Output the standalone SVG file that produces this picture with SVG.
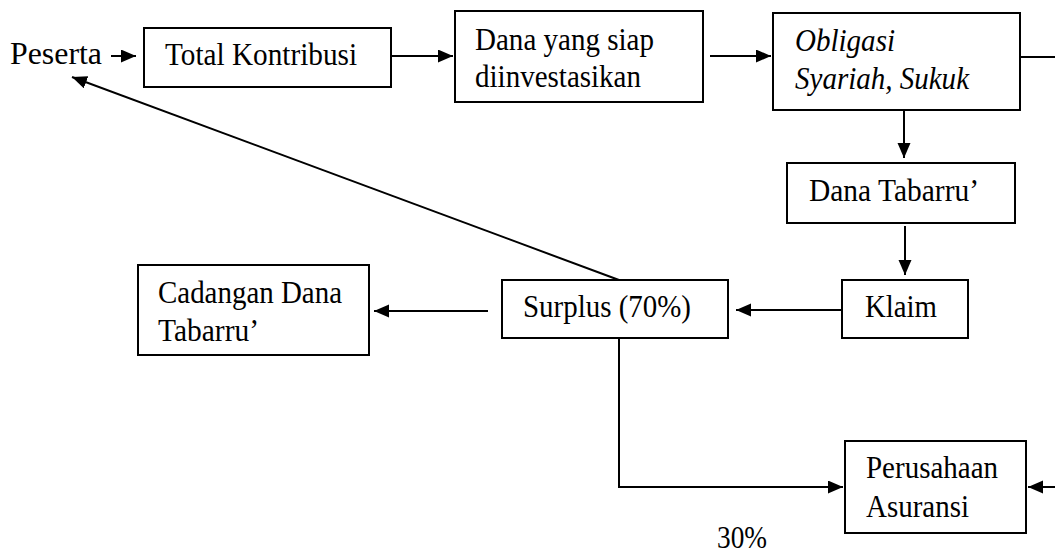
<svg xmlns="http://www.w3.org/2000/svg" width="1055" height="553" viewBox="0 0 1055 553">
<style>
.box{fill:#fff;stroke:#000;stroke-width:2}
.t{font-family:"Liberation Serif","Times New Roman",serif;font-size:32px;fill:#000}
.i{font-style:italic}
.c{fill:none;stroke:#000;stroke-width:2}
</style>
<defs>
<marker id="ah" markerUnits="userSpaceOnUse" markerWidth="16" markerHeight="14" refX="15" refY="6.5" orient="auto">
<path d="M0,0 L15,6.5 L0,13 z" fill="#000"/>
</marker>
</defs>
<rect width="1055" height="553" fill="#fff"/>
<g id="connectors">
<line class="c" x1="111" y1="56" x2="136" y2="56" marker-end="url(#ah)"/>
<line class="c" x1="391" y1="56" x2="453" y2="56" marker-end="url(#ah)"/>
<line class="c" x1="710" y1="56" x2="771" y2="56" marker-end="url(#ah)"/>
<line class="c" x1="1020" y1="57" x2="1055" y2="57"/>
<line class="c" x1="904" y1="110" x2="904" y2="158" marker-end="url(#ah)"/>
<line class="c" x1="905" y1="226" x2="905" y2="275" marker-end="url(#ah)"/>
<line class="c" x1="842" y1="310" x2="736" y2="310" marker-end="url(#ah)"/>
<line class="c" x1="488" y1="311" x2="374" y2="311" marker-end="url(#ah)"/>
<line class="c" x1="619" y1="280" x2="72" y2="77" marker-end="url(#ah)"/>
<path class="c" d="M619,338 V487 H843" marker-end="url(#ah)"/>
<line class="c" x1="1055" y1="487" x2="1028" y2="487" marker-end="url(#ah)"/>
</g>
<g id="peserta"><text class="t" x="10" y="64" textLength="92" lengthAdjust="spacingAndGlyphs">Peserta</text></g>
<g id="total-kontribusi"><rect class="box" x="144" y="28" width="247" height="59"/><text class="t" x="165" y="65" textLength="192" lengthAdjust="spacingAndGlyphs">Total Kontribusi</text></g>
<g id="dana-siap"><rect class="box" x="455" y="11" width="248" height="91"/><text class="t" x="475" y="50" textLength="179" lengthAdjust="spacingAndGlyphs">Dana yang siap</text><text class="t" x="475" y="87" textLength="166" lengthAdjust="spacingAndGlyphs">diinvestasikan</text></g>
<g id="obligasi"><rect class="box" x="773" y="13" width="247" height="97"/><text class="t i" x="795" y="51" textLength="100" lengthAdjust="spacingAndGlyphs">Obligasi</text><text class="t i" x="795" y="89" textLength="174" lengthAdjust="spacingAndGlyphs">Syariah, Sukuk</text></g>
<g id="dana-tabarru"><rect class="box" x="787" y="163" width="228" height="60"/><text class="t" x="809" y="201" textLength="170" lengthAdjust="spacingAndGlyphs">Dana Tabarru’</text></g>
<g id="klaim"><rect class="box" x="842" y="280" width="126" height="58"/><text class="t" x="865" y="317" textLength="72" lengthAdjust="spacingAndGlyphs">Klaim</text></g>
<g id="surplus"><rect class="box" x="502" y="280" width="226" height="58"/><text class="t" x="523" y="317" textLength="168" lengthAdjust="spacingAndGlyphs">Surplus (70%)</text></g>
<g id="cadangan"><rect class="box" x="138" y="265" width="231" height="90"/><text class="t" x="158" y="303" textLength="184" lengthAdjust="spacingAndGlyphs">Cadangan Dana</text><text class="t" x="158" y="341" textLength="101" lengthAdjust="spacingAndGlyphs">Tabarru’</text></g>
<g id="perusahaan"><rect class="box" x="845" y="441" width="181" height="92"/><text class="t" x="866" y="478" textLength="132" lengthAdjust="spacingAndGlyphs">Perusahaan</text><text class="t" x="866" y="517" textLength="103" lengthAdjust="spacingAndGlyphs">Asuransi</text></g>
<g id="label-30"><text class="t" x="717" y="548" textLength="50" lengthAdjust="spacingAndGlyphs">30%</text></g>
</svg>
